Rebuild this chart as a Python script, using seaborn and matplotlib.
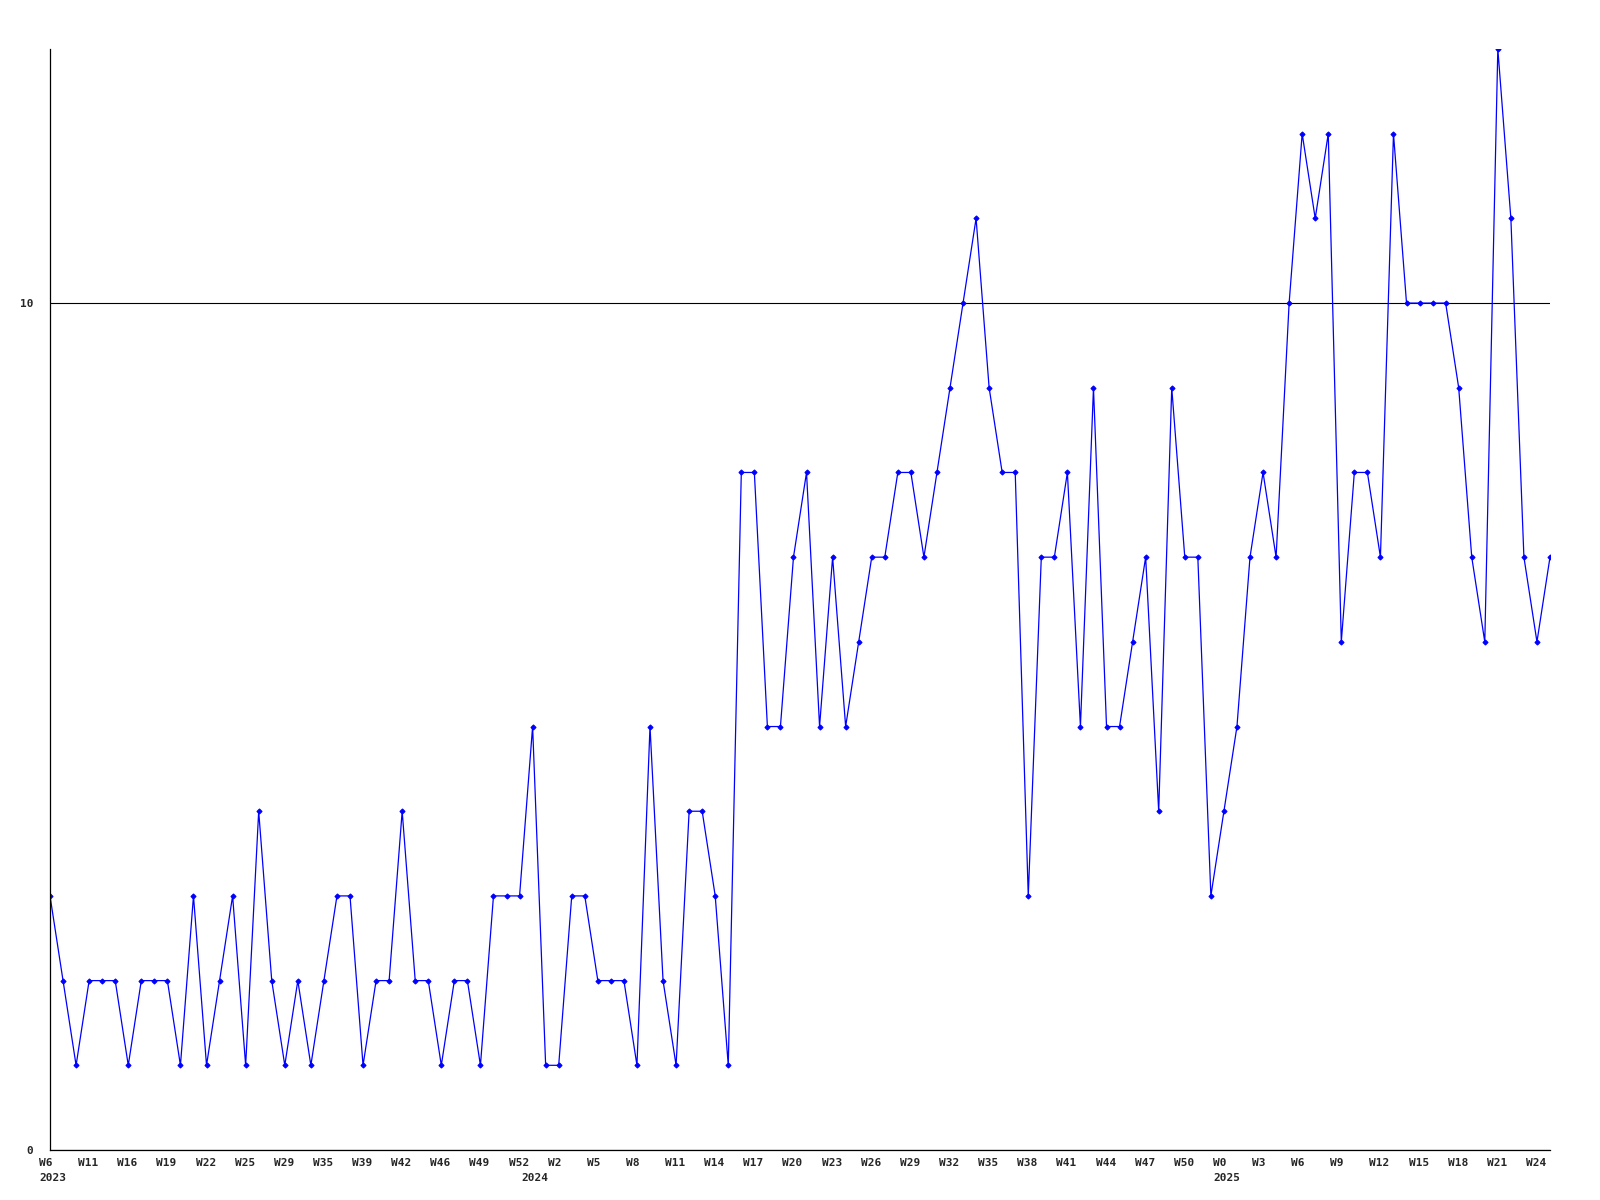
import matplotlib
matplotlib.use("Agg")
import matplotlib.pyplot as plt
from matplotlib.transforms import ScaledTranslation
import seaborn as sns
import pandas as pd

# ---- data ----
values = [3, 2, 1, 2, 2, 2, 1, 2, 2, 2, 1, 3, 1, 2, 3, 1, 4, 2, 1, 2,
          1, 2, 3, 3, 1, 2, 2, 4, 2, 2, 1, 2, 2, 1, 3, 3, 3, 5, 1, 1,
          3, 3, 2, 2, 2, 1, 5, 2, 1, 4, 4, 3, 1, 8, 8, 5, 5, 7, 8, 5,
          7, 5, 6, 7, 7, 8, 8, 7, 8, 9, 10, 11, 9, 8, 8, 3, 7, 7, 8, 5,
          9, 5, 5, 6, 7, 4, 9, 7, 7, 3, 4, 5, 7, 8, 7, 10, 12, 11, 12, 6,
          8, 8, 7, 12, 10, 10, 10, 10, 9, 7, 6, 13, 11, 7, 6, 7]
tick_labels = ["W6", "W11", "W16", "W19", "W22", "W25", "W29", "W35", "W39", "W42",
               "W46", "W49", "W52", "W2", "W5", "W8", "W11", "W14", "W17", "W20",
               "W23", "W26", "W29", "W32", "W35", "W38", "W41", "W44", "W47", "W50",
               "W0", "W3", "W6", "W9", "W12", "W15", "W18", "W21", "W24"]
tick_step = 3
year_labels = ["2023", "2024", "2025"]
year_index = [0, 37, 90]
y_ticks = [0, 10]

df = pd.DataFrame({"idx": range(len(values)), "count": values})

sns.set_style("white")
plt.rcParams["font.family"] = ["DejaVu Sans Mono", "DejaVu Sans"]

fig = plt.figure(figsize=(16, 12), dpi=100)
ax = fig.add_axes([50/1600, 50/1200, 1500/1600, 1101/1200])

sns.lineplot(data=df, x="idx", y="count", ax=ax, color="#0000FF",
             linewidth=0.9, marker="D", markersize=2.6,
             markeredgecolor="#0000FF", markerfacecolor="#0000FF")

ax.set_xlim(0, len(values) - 1)
ax.set_ylim(0, 13)
ax.set_xlabel("")
ax.set_ylabel("")

for s in ["top", "right"]:
    ax.spines[s].set_visible(False)
for s in ["left", "bottom"]:
    ax.spines[s].set_color("black")
    ax.spines[s].set_linewidth(0.9)

ax.set_yticks(y_ticks)
ax.set_yticklabels([str(v) for v in y_ticks], fontsize=8, fontweight="bold")
ax.yaxis.grid(True, color="black", linewidth=0.8)
ax.xaxis.grid(False)
ax.set_axisbelow(True)

xt = list(range(0, len(tick_labels) * tick_step, tick_step))
ax.set_xticks(xt)
ax.set_xticklabels(tick_labels, fontsize=8, fontweight="bold")
ax.tick_params(axis="both", length=0)
ax.tick_params(axis="x", pad=5.5)
ax.tick_params(axis="y", pad=12)

off = ScaledTranslation(-11/100, 0, fig.dpi_scale_trans)
for lbl in ax.get_xticklabels():
    lbl.set_ha("left")
    lbl.set_transform(lbl.get_transform() + off)

for yl, yi in zip(year_labels, year_index):
    ax.annotate(yl, xy=(yi, 0), xycoords=("data", "axes fraction"),
                xytext=(-11*0.72, -23*0.72), textcoords="offset points",
                ha="left", va="top", fontsize=8, fontweight="bold",
                annotation_clip=False)

fig.savefig("out.png", dpi=100, facecolor="white")
